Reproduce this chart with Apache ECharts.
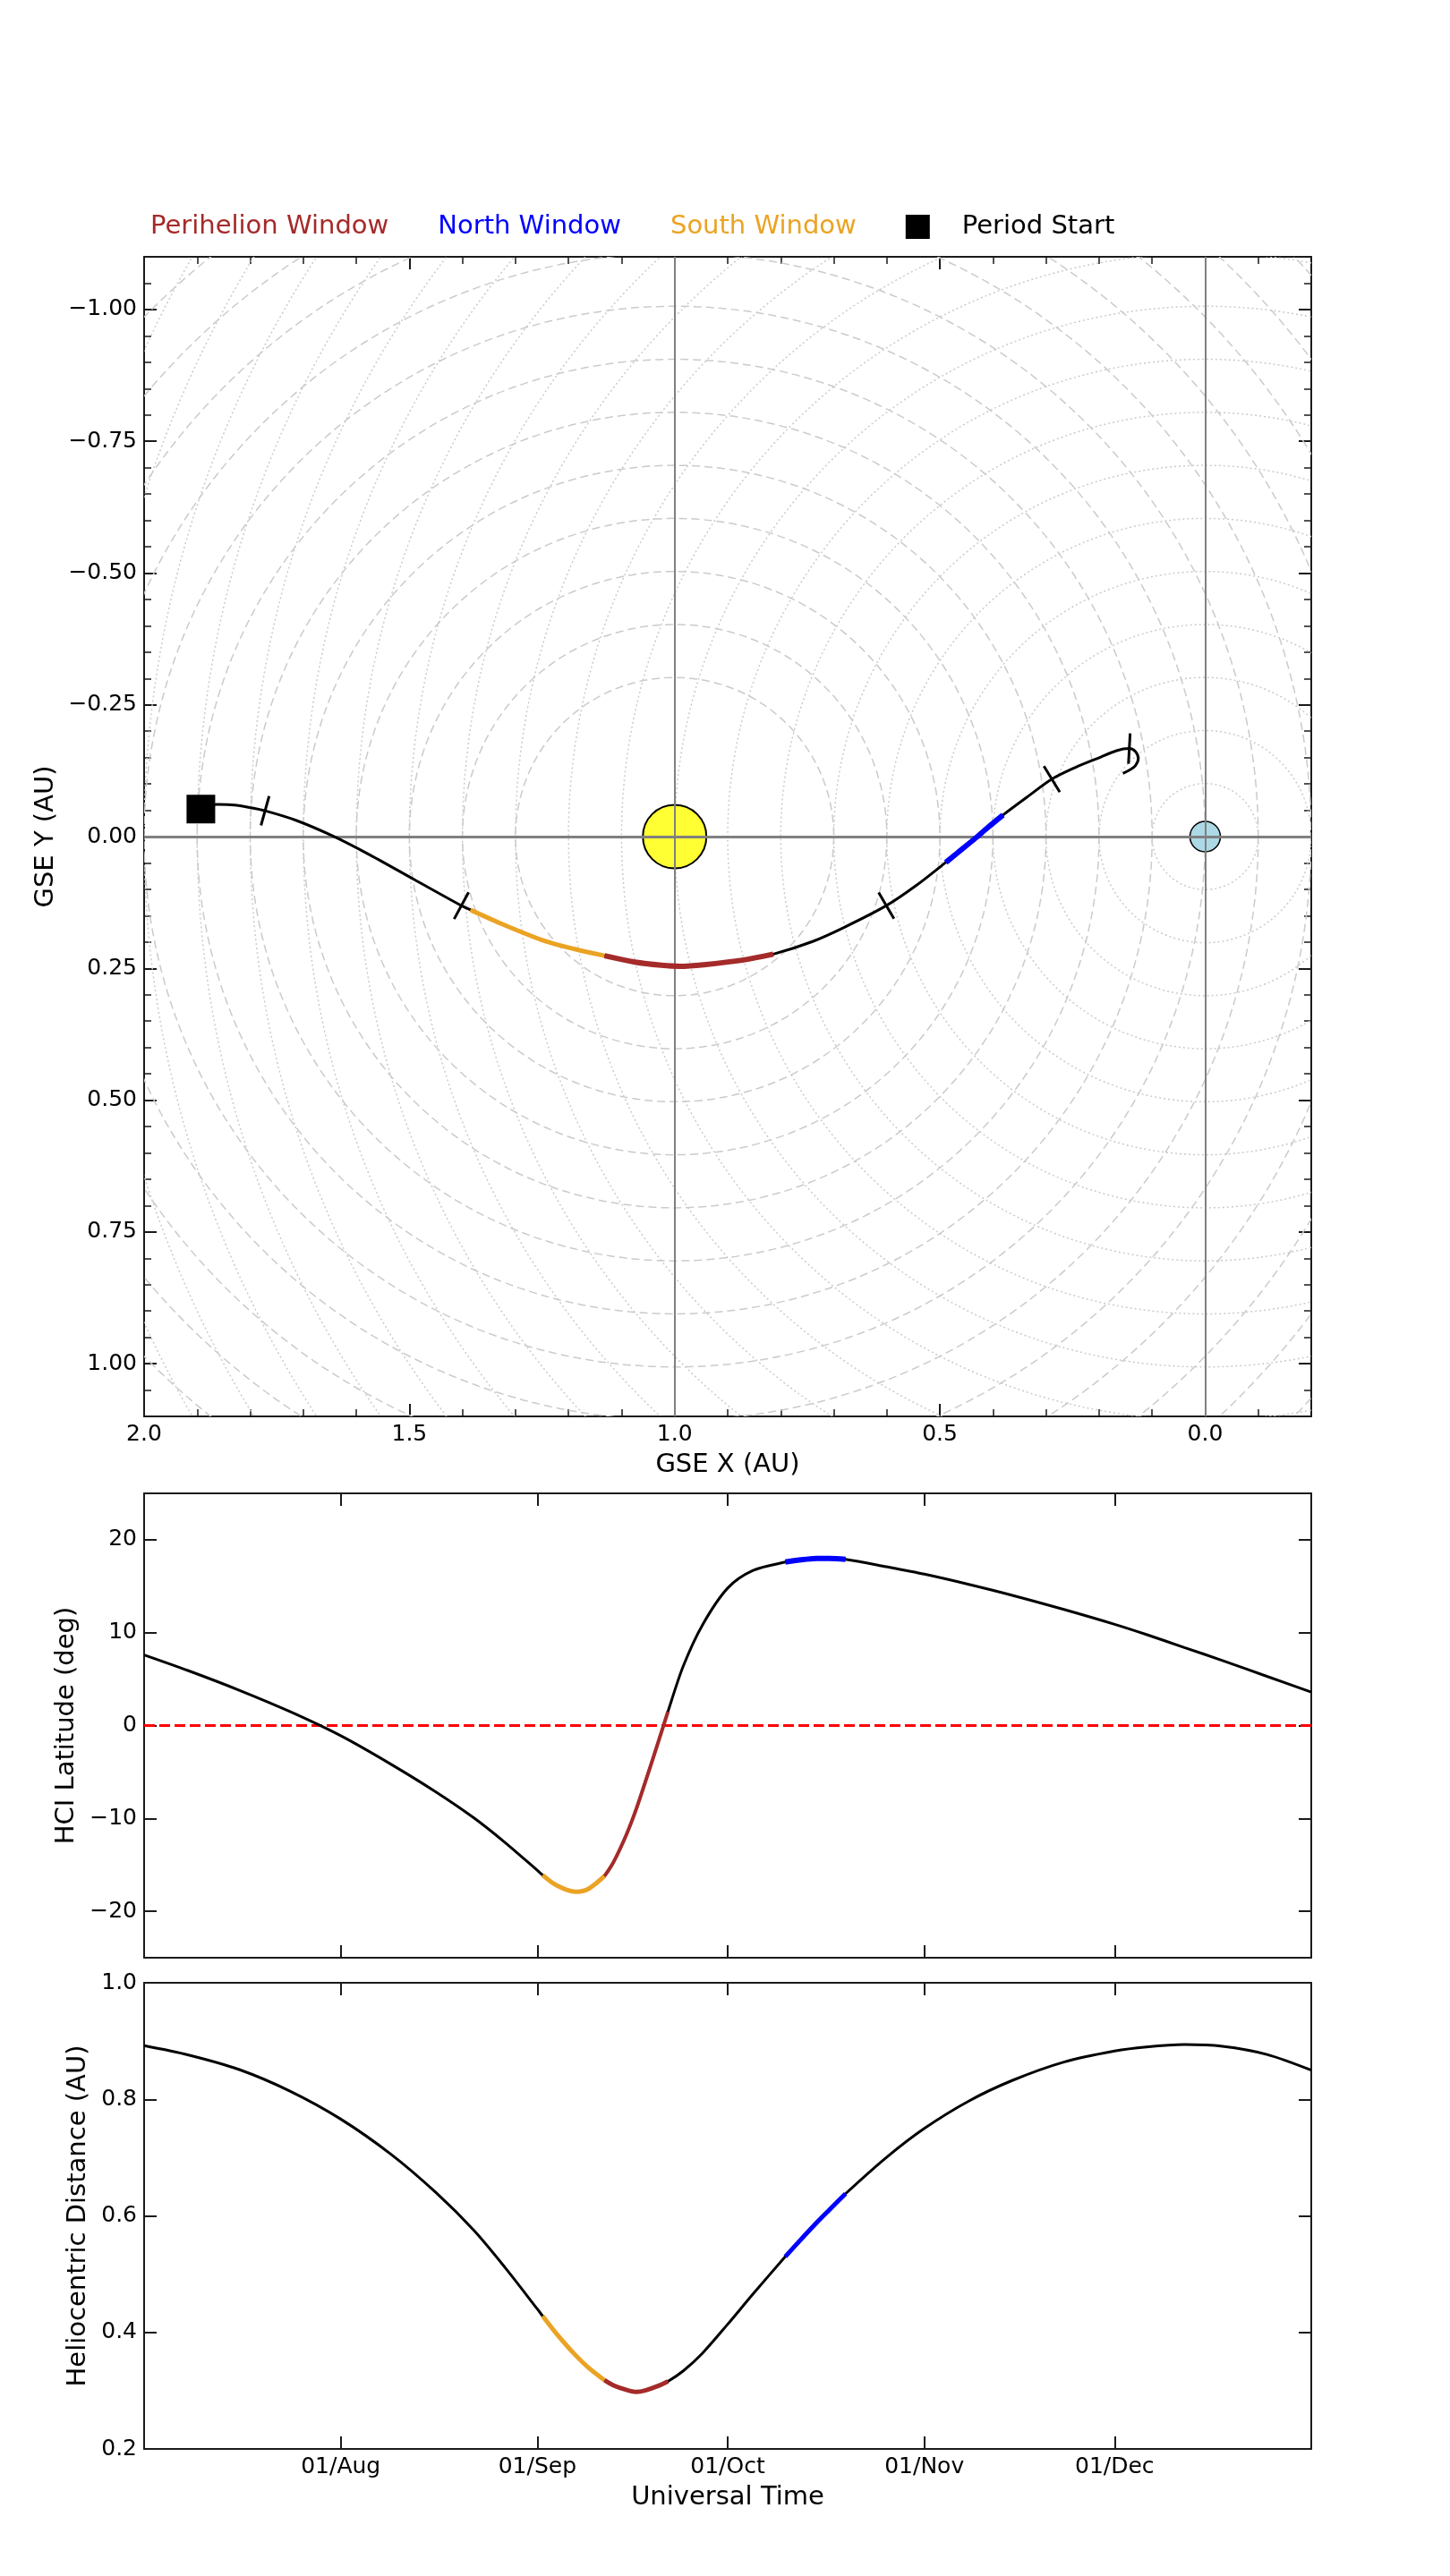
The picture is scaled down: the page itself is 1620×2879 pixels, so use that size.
<!DOCTYPE html>
<html>
<head>
<meta charset="utf-8">
<title>Orbit windows</title>
<script src="https://cdn.jsdelivr.net/npm/echarts@6/dist/echarts.min.js"></script>
<style>
  html, body { margin: 0; padding: 0; background: #fff; }
  #main { width: 1620px; height: 2879px; }
</style>
</head>
<body>
<div id="main"></div>
<script>
// samples along the period (UTC)
var sampleTimes = [
  '2022-07-01 00:00', '2022-07-08', '2022-07-16', '2022-07-24', '2022-08-01',
  '2022-08-09', '2022-08-16', '2022-08-22', '2022-08-27', '2022-09-01 00:00',
  '2022-09-01 20:00', '2022-09-04', '2022-09-07', '2022-09-09', '2022-09-11 14:00',
  '2022-09-13', '2022-09-15', '2022-09-16 14:00', '2022-09-18', '2022-09-20',
  '2022-09-21 14:00', '2022-09-24', '2022-09-27', '2022-10-01', '2022-10-05',
  '2022-10-10 02:00', '2022-10-12', '2022-10-15', '2022-10-17', '2022-10-19 14:00',
  '2022-10-26', '2022-11-01', '2022-11-08', '2022-11-15', '2022-11-23',
  '2022-12-01', '2022-12-06', '2022-12-12', '2022-12-18', '2022-12-25',
  '2023-01-01'
];
var gseX = [
  1.893, 1.862, 1.830, 1.800, 1.772,
  1.714, 1.644, 1.574, 1.490, 1.402,
  1.385, 1.325, 1.245, 1.190, 1.132,
  1.075, 1.025, 0.990, 0.945, 0.870,
  0.814, 0.740, 0.680, 0.601, 0.545,
  0.489, 0.467, 0.433, 0.410, 0.381,
  0.333, 0.289, 0.245, 0.204, 0.167,
  0.143, 0.131, 0.126, 0.132, 0.143,
  0.155
];
var gseY = [
  -0.052, -0.061, -0.060, -0.055, -0.049,
  -0.031, -0.001, 0.035, 0.082, 0.131,
  0.139, 0.166, 0.198, 0.213, 0.226,
  0.238, 0.244, 0.246, 0.243, 0.234,
  0.223, 0.199, 0.172, 0.131, 0.093,
  0.049, 0.031, 0.003, -0.017, -0.041,
  -0.077, -0.109, -0.131, -0.148, -0.163,
  -0.167, -0.161, -0.148, -0.134, -0.126,
  -0.120
];
var hciLat = [
  7.6, 5.9, 3.8, 1.5, -1.1,
  -4.2, -7.15, -9.95, -12.65, -15.6,
  -16.1, -17.2, -17.9, -17.6, -16.2,
  -14.7, -11.8, -9.0, -6.1, -1.9,
  1.5, 6.4, 10.8, 14.8, 16.7,
  17.6, 17.8, 18.0, 18.0, 17.9,
  17.1, 16.3, 15.2, 14.0, 12.5,
  10.9, 9.8, 8.4, 7.0, 5.3,
  3.6
];
var helioDist = [
  0.892, 0.876, 0.851, 0.814, 0.766,
  0.705, 0.640, 0.575, 0.510, 0.440,
  0.428, 0.398, 0.361, 0.340, 0.318,
  0.309, 0.3015, 0.298, 0.3005, 0.308,
  0.316, 0.334, 0.364, 0.414, 0.466,
  0.530, 0.553, 0.588, 0.610, 0.638,
  0.700, 0.750, 0.797, 0.833, 0.864,
  0.883, 0.890, 0.894, 0.891, 0.877,
  0.850
];

var southWindow = ['2022-09-01 20:00', '2022-09-11 14:00'];
var periWindow = ['2022-09-11 14:00', '2022-09-21 14:00'];
var northWindow = ['2022-10-10 02:00', '2022-10-19 14:00'];

var timeRange = ['2022-07-01', '2023-01-01'];
var monthTicks = ['2022-08-01', '2022-09-01', '2022-10-01', '2022-11-01', '2022-12-01'];
var gseXTicks = [0, 0.5, 1.0, 1.5, 2.0];
var gseYTicks = [-1.0, -0.75, -0.5, -0.25, 0, 0.25, 0.5, 0.75, 1.0];
var latTicks = [-20, -10, 0, 10, 20];

var sunPos = [1, 0];
var earthPos = [0, 0];
var sunRings = [0.3, 0.4, 0.5, 0.6, 0.7, 0.8, 0.9, 1.0, 1.1, 1.2, 1.3, 1.4, 1.5, 1.6, 1.7];
var earthRings = [0.1, 0.2, 0.3, 0.4, 0.5, 0.6, 0.7, 0.8, 0.9, 1.0, 1.1, 1.2,
                  1.3, 1.4, 1.5, 1.6, 1.7, 1.8, 1.9, 2.0, 2.1, 2.2, 2.3];

var FONT = 'DejaVu Sans';
var C_PERI = '#a52a2a', C_NORTH = '#0000ff', C_SOUTH = '#eba324';
var MON = ['Jan', 'Feb', 'Mar', 'Apr', 'May', 'Jun', 'Jul', 'Aug', 'Sep', 'Oct', 'Nov', 'Dec'];

function T(s) {
  var p = s.split(' ');
  var d = p[0].split('-').map(Number);
  var t = (p[1] || '00:00').split(':').map(Number);
  return Date.UTC(d[0], d[1] - 1, d[2], t[0], t[1]);
}
var times = sampleTimes.map(T);

function inWin(win) {
  var a = T(win[0]), b = T(win[1]), idx = [];
  for (var i = 0; i < times.length; i++) if (times[i] >= a && times[i] <= b) idx.push(i);
  return idx;
}
function xyPts(idx) { return idx.map(function (i) { return [gseX[i], gseY[i]]; }); }
function tPts(idx, vals) { return idx.map(function (i) { return [times[i], vals[i]]; }); }
var allIdx = times.map(function (t, i) { return i; });

function signed(v, d) {
  return (v < -1e-9 ? '\u2212' : '') + Math.abs(v).toFixed(d);
}
function monthLabel(v) {
  var d = new Date(v);
  return ('0' + d.getUTCDate()).slice(-2) + '/' + MON[d.getUTCMonth()];
}

var frameLine = { show: true, onZero: false, lineStyle: { color: '#1a1a1a', width: 2 } };
var hiddenLine = { show: false, onZero: false };
var majorTick = function (vals) {
  return { show: true, inside: true, length: 14, customValues: vals, lineStyle: { color: '#1a1a1a', width: 2 } };
};
var minorTick = { show: true, inside: true, length: 8, lineStyle: { color: '#1a1a1a', width: 1.5 } };
var labelStyle = { fontFamily: FONT, fontSize: 25, color: '#000', margin: 8 };
var nameStyle = { fontFamily: FONT, fontSize: 29, color: '#000' };
var noLabel = { show: false };
var noSplit = { show: false };

var tStart = T(timeRange[0]), tEnd = T(timeRange[1]);
var monthTickTimes = monthTicks.map(T);

function valAxis(o) {
  var base = { type: 'value', splitLine: noSplit, axisLabel: noLabel, axisLine: frameLine };
  for (var k in o) base[k] = o[k];
  return base;
}

var xAxes = [
  // GSE plot frame
  valAxis({ gridIndex: 0, position: 'bottom', min: -0.2, max: 2.0, inverse: true,
    axisTick: majorTick(gseXTicks),
    axisLabel: Object.assign({ customValues: gseXTicks, formatter: function (v) { return signed(v, 1); } }, labelStyle),
    name: 'GSE X (AU)', nameLocation: 'middle', nameGap: 40, nameTextStyle: nameStyle }),
  valAxis({ gridIndex: 0, position: 'top', min: -0.2, max: 2.0, inverse: true, axisTick: majorTick(gseXTicks) }),
  // GSE minor ticks
  valAxis({ gridIndex: 3, position: 'bottom', min: -0.2, max: 2.0, inverse: true, interval: 0.1,
    axisLine: hiddenLine, axisTick: minorTick }),
  valAxis({ gridIndex: 3, position: 'top', min: -0.2, max: 2.0, inverse: true, interval: 0.1,
    axisLine: hiddenLine, axisTick: minorTick }),
  // latitude
  valAxis({ gridIndex: 1, position: 'bottom', min: tStart, max: tEnd, axisTick: majorTick(monthTickTimes) }),
  valAxis({ gridIndex: 1, position: 'top', min: tStart, max: tEnd, axisTick: majorTick(monthTickTimes) }),
  // distance
  valAxis({ gridIndex: 2, position: 'bottom', min: tStart, max: tEnd, axisTick: majorTick(monthTickTimes),
    axisLabel: Object.assign({ customValues: monthTickTimes, formatter: monthLabel }, labelStyle),
    name: 'Universal Time', nameLocation: 'middle', nameGap: 40, nameTextStyle: nameStyle }),
  valAxis({ gridIndex: 2, position: 'top', min: tStart, max: tEnd, axisTick: majorTick(monthTickTimes) })
];

var yAxes = [
  valAxis({ gridIndex: 0, position: 'left', min: -1.1, max: 1.1, inverse: true,
    axisTick: majorTick(gseYTicks),
    axisLabel: Object.assign({ customValues: gseYTicks, formatter: function (v) { return signed(v, 2); } }, labelStyle),
    name: 'GSE Y (AU)', nameLocation: 'middle', nameGap: 90, nameTextStyle: nameStyle }),
  valAxis({ gridIndex: 0, position: 'right', min: -1.1, max: 1.1, inverse: true, axisTick: majorTick(gseYTicks) }),
  valAxis({ gridIndex: 3, position: 'left', min: -1.1, max: 1.1, inverse: true, interval: 0.05,
    axisLine: hiddenLine, axisTick: minorTick }),
  valAxis({ gridIndex: 3, position: 'right', min: -1.1, max: 1.1, inverse: true, interval: 0.05,
    axisLine: hiddenLine, axisTick: minorTick }),
  valAxis({ gridIndex: 1, position: 'left', min: -25, max: 25, axisTick: majorTick(latTicks),
    axisLabel: Object.assign({ customValues: latTicks, formatter: function (v) { return signed(v, 0); } }, labelStyle),
    name: 'HCI Latitude (deg)', nameLocation: 'middle', nameGap: 66, nameTextStyle: nameStyle }),
  valAxis({ gridIndex: 1, position: 'right', min: -25, max: 25, axisTick: majorTick(latTicks) }),
  valAxis({ gridIndex: 2, position: 'left', min: 0.2, max: 1.0, interval: 0.2,
    axisTick: { show: true, inside: true, length: 14, lineStyle: { color: '#1a1a1a', width: 2 } },
    axisLabel: Object.assign({ show: true, formatter: function (v) { return v.toFixed(1); } }, labelStyle),
    name: 'Heliocentric Distance (AU)', nameLocation: 'middle', nameGap: 54, nameTextStyle: nameStyle }),
  valAxis({ gridIndex: 2, position: 'right', min: 0.2, max: 1.0, interval: 0.2,
    axisTick: { show: true, inside: true, length: 14, lineStyle: { color: '#1a1a1a', width: 2 } } })
];

function ringSeries(center, radii, dash) {
  return {
    type: 'custom', xAxisIndex: 0, yAxisIndex: 0, z: 1, clip: true, silent: true,
    data: radii.map(function (r) { return [center[0], center[1], r]; }),
    renderItem: function (params, api) {
      var c = api.coord([api.value(0), api.value(1)]);
      var r = Math.abs(api.size([api.value(2), 0])[0]);
      var cs = params.coordSys;
      return {
        type: 'circle',
        shape: { cx: c[0], cy: c[1], r: r },
        style: { fill: 'none', stroke: '#cbcbcb', lineWidth: 1.5, lineDash: dash },
        clipPath: { type: 'rect', shape: { x: cs.x, y: cs.y, width: cs.width, height: cs.height } }
      };
    }
  };
}

function lineSeries(name, data, color, width, xi, yi, z) {
  return {
    name: name, type: 'line', data: data, xAxisIndex: xi, yAxisIndex: yi, z: z,
    showSymbol: false, symbol: 'none', smooth: 0.3, silent: true,
    lineStyle: { color: color, width: width }, itemStyle: { color: color },
    emphasis: { disabled: true }
  };
}

var tickIdx = monthTicks.map(function (m) { return times.indexOf(T(m)); });

var series = [
  ringSeries(sunPos, sunRings, [9, 5]),
  ringSeries(earthPos, earthRings, [2, 3]),
  { type: 'scatter', xAxisIndex: 0, yAxisIndex: 0, z: 2, silent: true, data: [sunPos], symbolSize: 71,
    itemStyle: { color: '#ffff33', borderColor: '#000', borderWidth: 2, opacity: 1 } },
  { type: 'scatter', xAxisIndex: 0, yAxisIndex: 0, z: 2, silent: true, data: [earthPos], symbolSize: 34,
    itemStyle: { color: '#add8e6', borderColor: '#000', borderWidth: 1.5, opacity: 1 } },
  { type: 'line', xAxisIndex: 0, yAxisIndex: 0, data: [], silent: true,
    markLine: { z: 3, silent: true, symbol: ['none', 'none'], label: { show: false }, animation: false,
      lineStyle: { color: '#808080', type: 'solid', width: 2 },
      data: [{ xAxis: sunPos[0] }, { xAxis: earthPos[0] }, { yAxis: 0, lineStyle: { width: 3 } }] } },
  lineSeries('Trajectory', xyPts(allIdx), '#000', 3, 0, 0, 4),
  lineSeries('South Window', xyPts(inWin(southWindow)), C_SOUTH, 5, 0, 0, 5),
  lineSeries('Perihelion Window', xyPts(inWin(periWindow)), C_PERI, 6, 0, 0, 5),
  lineSeries('North Window', xyPts(inWin(northWindow)), C_NORTH, 6, 0, 0, 5),
  { type: 'custom', xAxisIndex: 0, yAxisIndex: 0, z: 6, silent: true,
    data: tickIdx.map(function (i) {
      return [gseX[i], gseY[i], gseX[i - 1], gseY[i - 1], gseX[i + 1], gseY[i + 1]];
    }),
    renderItem: function (params, api) {
      var p = api.coord([api.value(0), api.value(1)]);
      var a = api.coord([api.value(2), api.value(3)]);
      var b = api.coord([api.value(4), api.value(5)]);
      var tx = b[0] - a[0], ty = b[1] - a[1], len = Math.sqrt(tx * tx + ty * ty);
      tx /= len; ty /= len;
      var h = 17;
      return { type: 'line',
        shape: { x1: p[0] - ty * h, y1: p[1] + tx * h, x2: p[0] + ty * h, y2: p[1] - tx * h },
        style: { stroke: '#000', lineWidth: 3 } };
    } },
  { name: 'Period Start', type: 'scatter', xAxisIndex: 0, yAxisIndex: 0, z: 7, silent: true,
    data: [[gseX[0], gseY[0]]], symbol: 'rect', symbolSize: 32, itemStyle: { color: '#000', opacity: 1 } },

  // latitude panel
  { type: 'line', xAxisIndex: 4, yAxisIndex: 4, data: [], silent: true,
    markLine: { z: 3, silent: true, symbol: ['none', 'none'], label: { show: false }, animation: false,
      lineStyle: { color: '#ff0000', type: [12, 5], width: 3 }, data: [{ yAxis: 0 }] } },
  lineSeries('Latitude', tPts(allIdx, hciLat), '#000', 3, 4, 4, 4),
  lineSeries('South Window', tPts(inWin(southWindow), hciLat), C_SOUTH, 5, 4, 4, 5),
  lineSeries('Perihelion Window', tPts(inWin(periWindow), hciLat), C_PERI, 4, 4, 4, 5),
  lineSeries('North Window', tPts(inWin(northWindow), hciLat), C_NORTH, 6, 4, 4, 5),

  // distance panel
  lineSeries('Distance', tPts(allIdx, helioDist), '#000', 3, 6, 6, 4),
  lineSeries('South Window', tPts(inWin(southWindow), helioDist), C_SOUTH, 5, 6, 6, 5),
  lineSeries('Perihelion Window', tPts(inWin(periWindow), helioDist), C_PERI, 5, 6, 6, 5),
  lineSeries('North Window', tPts(inWin(northWindow), helioDist), C_NORTH, 5, 6, 6, 5)
];

var chart = echarts.init(document.getElementById('main'), null, { renderer: 'canvas' });
chart.setOption({
  animation: false,
  backgroundColor: '#fff',
  legend: {
    left: 130, top: 234, itemWidth: 28, itemHeight: 28, itemGap: 22,
    selectedMode: false,
    textStyle: { fontFamily: FONT, fontSize: 29, color: '#000',
      rich: { sq: { width: 27, height: 27, backgroundColor: '#000' }, gap: { width: 36 } } },
    formatter: function (name) { return name === 'Period Start' ? '{sq|}{gap|}' + name : name; },
    data: [
      { name: 'Perihelion Window', icon: 'none', textStyle: { color: C_PERI } },
      { name: 'North Window', icon: 'none', textStyle: { color: C_NORTH } },
      { name: 'South Window', icon: 'none', textStyle: { color: C_SOUTH } },
      { name: 'Period Start', icon: 'none', textStyle: { color: '#000' } }
    ]
  },
  grid: [
    { left: 161, top: 287, width: 1304, height: 1296 },
    { left: 161, top: 1669, width: 1304, height: 519 },
    { left: 161, top: 2216, width: 1304, height: 521 },
    { left: 161, top: 287, width: 1304, height: 1296 }
  ],
  xAxis: xAxes,
  yAxis: yAxes,
  series: series
});
</script>
</body>
</html>
